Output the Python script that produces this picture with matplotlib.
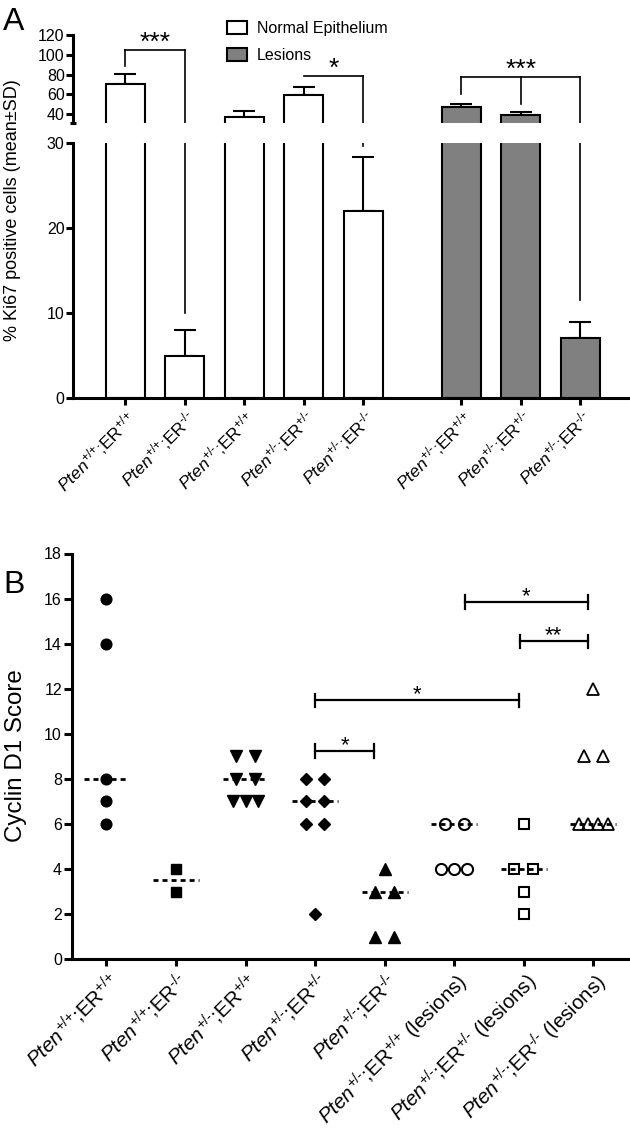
import numpy as np
import matplotlib
matplotlib.use('Agg')
import matplotlib.pyplot as plt
from matplotlib.patches import Patch

plt.rcParams['font.family'] = ['Liberation Sans', 'DejaVu Sans']
plt.rcParams['mathtext.fontset'] = 'custom'
plt.rcParams['mathtext.rm'] = 'Liberation Sans'
plt.rcParams['mathtext.it'] = 'Liberation Sans:italic'
plt.rcParams['mathtext.bf'] = 'Liberation Sans:bold'
plt.rcParams['lines.scale_dashes'] = False

# ---------------- Panel A data ----------------
a_pten = ['+/+', '+/+', '+/-', '+/-', '+/-', '+/-', '+/-', '+/-']
a_er = ['+/+', '-/-', '+/+', '+/-', '-/-', '+/+', '+/-', '-/-']
a_tissue = ['Normal Epithelium'] * 5 + ['Lesions'] * 3
a_mean = [70, 5, 37, 59, 22, 47, 39, 7.1]
a_sd = [11, 3, 6.5, 8, 6.3, 3.4, 2.7, 1.9]
# significance brackets: (left bar, right bar, line level, legs [(bar, leg end)], label)
a_brackets = [
    (0, 1, 104.6, [(0, 88.5), (1, 10)], '***'),
    (3, 4, 78.3, [(4, 29.7)], '*'),
    (5, 7, 77.6, [(5, 60.2), (6, 50), (7, 11.5)], '***'),
]

# ---------------- Panel B data ----------------
b_pten = ['+/+', '+/+', '+/-', '+/-', '+/-', '+/-', '+/-', '+/-']
b_er = ['+/+', '-/-', '+/+', '+/-', '-/-', '+/+', '+/-', '-/-']
b_lesion = [False] * 5 + [True] * 3
b_values = [
    [16, 14, 8, 7, 6],
    [4, 3],
    [9, 9, 8, 8, 7, 7, 7],
    [8, 8, 7, 7, 6, 6, 2],
    [4, 3, 3, 1, 1],
    [6, 6, 4, 4, 4],
    [6, 4, 4, 3, 2],
    [12, 9, 9, 6, 6, 6, 6],
]
b_center = [8, 3.5, 8, 7, 3, 6, 4, 6]
# significance bars: (x left, x right, level, label)
b_brackets = [
    (3.0, 3.85, 9.23, '*'),
    (3.0, 5.93, 11.48, '*'),
    (5.94, 6.92, 14.1, '**'),
    (5.16, 6.92, 15.85, '*'),
]

# ---------------- helpers ----------------
def geno_label(p, e, lesion=False):
    s = r'$\mathit{Pten}^{\text{%s}}$;ER$^{\text{%s}}$' % (p, e)
    if lesion:
        s += ' (lesions)'
    return s

W, H = 630, 1134
fig = plt.figure(figsize=(W / 100, H / 100), dpi=100)

def fbox(x0, y0, x1, y1):
    return [x0 / W, 1 - y1 / H, (x1 - x0) / W, (y1 - y0) / H]

SPW = 2.2
fill_map = {'Normal Epithelium': 'white', 'Lesions': '#808080'}

# positions: normal group then lesion group with a gap
xa = []
pos = 0.0
for i, t in enumerate(a_tissue):
    if i > 0 and t != a_tissue[i - 1]:
        pos += 0.65
    xa.append(pos)
    pos += 1
xa = np.array(xa)

ax_lo = fig.add_axes(fbox(73, 143, 628, 398))
ax_hi = fig.add_axes(fbox(73, 35, 628, 123))
bar_w = 0.655
for ax in (ax_lo, ax_hi):
    ax.bar(xa, a_mean, width=bar_w, color=[fill_map[t] for t in a_tissue],
           edgecolor='black', linewidth=1.5, zorder=2)
    ax.errorbar(xa, a_mean, yerr=[np.zeros(len(a_mean)), a_sd], fmt='none',
                ecolor='black', elinewidth=1.5, capsize=8, capthick=1.5, zorder=1)
    for (l, r, lev, legs, lab) in a_brackets:
        ax.plot([xa[l], xa[r]], [lev, lev], color='black', lw=1.2, zorder=3)
        for (b, end) in legs:
            ax.plot([xa[b], xa[b]], [lev, end], color='black', lw=1.2, zorder=3)
    ax.set_xlim(-0.88, 8.45)
    ax.spines['top'].set_visible(False)
    ax.spines['right'].set_visible(False)
    ax.spines['left'].set_linewidth(SPW)
    ax.spines['bottom'].set_linewidth(SPW)
    ax.tick_params(axis='y', length=5, width=SPW, pad=1, labelsize=11.5)

ax_lo.set_ylim(0, 30)
ax_lo.set_yticks([0, 10, 20, 30])
ax_lo.set_xticks(xa)
ax_lo.set_xticklabels([geno_label(p, e) for p, e in zip(a_pten, a_er)],
                      rotation=45, ha='right', va='top', rotation_mode='anchor',
                      fontsize=12.5)
ax_lo.tick_params(axis='x', length=5, width=SPW, pad=2)

ax_hi.set_ylim(31, 120)
ax_hi.set_yticks([40, 60, 80, 100, 120])
ax_hi.set_yticks([31], minor=True)
ax_hi.tick_params(axis='y', which='minor', length=4, width=SPW, direction='inout')
ax_hi.spines['bottom'].set_visible(False)
ax_hi.set_xticks([])
for (l, r, lev, legs, lab) in a_brackets:
    ax_hi.annotate(lab, ((xa[l] + xa[r]) / 2, lev), xytext=(0, 0),
                   textcoords='offset points', ha='center', va='baseline',
                   fontsize=19, annotation_clip=False)

fig.text(3 / W, 1 - 30 / H, 'A', fontsize=23, va='baseline', ha='left')
fig.text(13 / W, 1 - 210 / H, '% Ki67 positive cells (mean\u00b1SD)', rotation=90,
         ha='center', va='center', fontsize=13)

fig.legend(handles=[Patch(facecolor='white', edgecolor='black', lw=1.5, label='Normal Epithelium'),
                    Patch(facecolor='#808080', edgecolor='black', lw=1.5, label='Lesions')],
           loc='upper left', bbox_to_anchor=(227 / W, 1 - 21 / H), frameon=False,
           fontsize=11.5, handlelength=1.25, handleheight=0.85, handletextpad=0.6,
           labelspacing=0.75, borderpad=0, borderaxespad=0)

# ---------------- Panel B ----------------
axb = fig.add_axes(fbox(71.7, 553.5, 628, 959.3))
styles = [
    dict(marker='o', ms=7.7, mfc='black', mec='black'),
    dict(marker='s', ms=7.2, mfc='black', mec='black'),
    dict(marker='v', ms=8.0, mfc='black', mec='black'),
    dict(marker='D', ms=6.0, mfc='black', mec='black'),
    dict(marker='^', ms=8.4, mfc='black', mec='black'),
    dict(marker='o', ms=8.0, mfc='none', mec='black', mew=1.5),
    dict(marker='s', ms=7.6, mfc='none', mec='black', mew=1.5),
    dict(marker='^', ms=8.4, mfc='none', mec='black', mew=1.3),
]

def spread(vals):
    vals = np.asarray(vals, dtype=float)
    off = np.zeros(len(vals))
    for v in np.unique(vals):
        idx = np.where(vals == v)[0]
        k = len(idx)
        if k > 1:
            step = 0.27 if k == 2 else 0.55 / k
            off[idx] = (np.arange(k) - (k - 1) / 2) * step
    return off

for g, vals in enumerate(b_values):
    axb.hlines(b_center[g], g - 0.33, g + 0.33, colors='black', lw=2,
               linestyles=(0, (3.6, 2.9)), zorder=2)
    axb.plot(g + spread(vals), vals, ls='none', zorder=3, **styles[g])

for (xl, xr, lev, lab) in b_brackets:
    axb.plot([xl, xr], [lev, lev], color='black', lw=1.6)
    axb.plot([xl, xl], [lev - 0.3, lev + 0.3], color='black', lw=1.6)
    axb.plot([xr, xr], [lev - 0.3, lev + 0.3], color='black', lw=1.6)
    axb.annotate(lab, ((xl + xr) / 2, lev), xytext=(0, 0), textcoords='offset points',
                 ha='center', va='baseline', fontsize=16)

axb.set_xlim(-0.5, 7.5)
axb.set_ylim(0, 18)
axb.set_yticks(np.arange(0, 19, 2))
axb.set_xticks(np.arange(len(b_values)))
axb.set_xticklabels([geno_label(p, e, l) for p, e, l in zip(b_pten, b_er, b_lesion)],
                    rotation=45, ha='right', va='top', rotation_mode='anchor', fontsize=14.8)
axb.spines['top'].set_visible(False)
axb.spines['right'].set_visible(False)
axb.spines['left'].set_linewidth(SPW)
axb.spines['bottom'].set_linewidth(SPW)
axb.tick_params(axis='y', length=6, width=SPW, pad=1, labelsize=11.5)
axb.tick_params(axis='x', length=5, width=SPW, pad=2)

fig.text(3 / W, 1 - 593 / H, 'B', fontsize=23, va='baseline', ha='left')
fig.text(16 / W, 1 - 756 / H, 'Cyclin D1 Score', rotation=90,
         ha='center', va='center', fontsize=17.4)

fig.savefig('out.png', dpi=100)
